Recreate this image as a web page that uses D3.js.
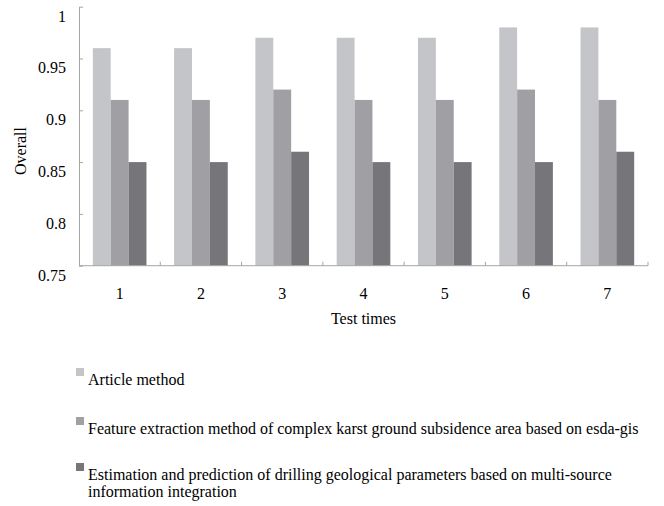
<!DOCTYPE html>
<html>
<head>
<meta charset="utf-8">
<script src="https://cdn.jsdelivr.net/npm/d3@7"></script>
<style>
  body { margin: 0; background: #fff; }
  svg text { font-family: "Liberation Serif", "Times New Roman", serif; fill: #000; }
</style>
</head>
<body>
<div class="chart__container"></div>
<script>
/*-------------------------------------DATA-------------------------------------*/

const TEST_TIMES = ["1", "2", "3", "4", "5", "6", "7"];
const SERIES = [
    "Article method",
    "Feature extraction method of complex karst ground subsidence area based on esda-gis",
    "Estimation and prediction of drilling geological parameters based on multi-source information integration"
];
const ARTICLE = [0.96, 0.96, 0.97, 0.97, 0.97, 0.98, 0.98];
const FEATURE = [0.91, 0.91, 0.92, 0.91, 0.91, 0.92, 0.91];
const ESTIMATION = [0.85, 0.85, 0.86, 0.85, 0.85, 0.85, 0.86];
const Y_TICKS = [0.75, 0.8, 0.85, 0.9, 0.95, 1];
const COLORS = ["#c4c5c9", "#a09fa4", "#76757a"];

/*-------------------------------------INIT-------------------------------------*/

const CHART__WIDTH = 664;
const CHART__HEIGHT = 506;
const MARGIN = { top: 6.7, right: 16, bottom: 240.3, left: 79 };
const AXIS_COLOR = "#a6a6a6";

const SVG = d3.select(".chart__container").append("svg")
    .attr("width", CHART__WIDTH)
    .attr("height", CHART__HEIGHT);

const x0 = d3.scaleBand()
    .domain(TEST_TIMES)
    .range([MARGIN.left, CHART__WIDTH - MARGIN.right])
    .padding(0);

const gap = x0.bandwidth() * 0.17;
const x1 = d3.scaleBand()
    .domain(d3.range(SERIES.length))
    .range([gap, x0.bandwidth() - gap])
    .padding(0);

const y = d3.scaleLinear()
    .domain([0.75, 1])
    .range([CHART__HEIGHT - MARGIN.bottom, MARGIN.top]);

const rows = TEST_TIMES.map((t, i) => ({ t, vals: [ARTICLE[i], FEATURE[i], ESTIMATION[i]] }));

/*-------------------------------------BARS-------------------------------------*/

SVG.append("g").selectAll("g")
    .data(rows)
    .join("g")
    .attr("transform", d => `translate(${x0(d.t)},0)`)
    .selectAll("rect")
    .data(d => d.vals.map((v, k) => ({ v, k })))
    .join("rect")
    .attr("x", d => x1(d.k))
    .attr("width", x1.bandwidth())
    .attr("y", d => y(d.v))
    .attr("height", d => y(0.75) - y(d.v))
    .attr("fill", d => COLORS[d.k]);

/*-------------------------------------AXES-------------------------------------*/

// y axis: ticks point inward, labels sit a bit below the tick
const yAxis = SVG.append("g")
    .attr("transform", `translate(${MARGIN.left},0)`)
    .call(d3.axisLeft(y).tickValues(Y_TICKS).tickFormat(d3.format("")).tickSizeInner(-4).tickSizeOuter(0).tickPadding(13));
yAxis.select(".domain").attr("stroke", AXIS_COLOR);
yAxis.selectAll(".tick line").attr("stroke", AXIS_COLOR);
yAxis.selectAll(".tick text")
    .attr("font-size", 16)
    .attr("font-family", "Liberation Serif")
    .attr("dy", "0.9em");

// x axis: line plus boundary ticks pointing up
const base = y(0.75);
const xAxis = SVG.append("g");
xAxis.append("line")
    .attr("x1", MARGIN.left).attr("x2", CHART__WIDTH - MARGIN.right)
    .attr("y1", base).attr("y2", base)
    .attr("stroke", AXIS_COLOR);
xAxis.selectAll(".bound")
    .data(TEST_TIMES)
    .join("line")
    .attr("class", "bound")
    .attr("x1", d => x0(d) + x0.bandwidth()).attr("x2", d => x0(d) + x0.bandwidth())
    .attr("y1", base).attr("y2", base - 4)
    .attr("stroke", AXIS_COLOR);
xAxis.selectAll(".lbl")
    .data(TEST_TIMES)
    .join("text")
    .attr("class", "lbl")
    .attr("x", d => x0(d) + x0.bandwidth() / 2)
    .attr("y", base + 33)
    .attr("text-anchor", "middle")
    .attr("font-size", 16)
    .text(d => d);

// axis titles
SVG.append("text")
    .attr("x", (MARGIN.left + CHART__WIDTH - MARGIN.right) / 2)
    .attr("y", 324)
    .attr("text-anchor", "middle")
    .attr("font-size", 16)
    .text("Test times");

SVG.append("text")
    .attr("transform", "translate(26,151) rotate(-90)")
    .attr("text-anchor", "middle")
    .attr("font-size", 16)
    .text("Overall");

/*-------------------------------------LEGEND-------------------------------------*/

const LEGEND_Y = [368, 417, 463];
const legend = SVG.append("g").selectAll("g")
    .data(SERIES)
    .join("g")
    .attr("transform", (d, i) => `translate(76,${LEGEND_Y[i]})`);

legend.append("rect")
    .attr("width", 8).attr("height", 8)
    .attr("fill", (d, i) => COLORS[i]);

legend.append("text")
    .attr("x", 12)
    .attr("y", 17)
    .attr("font-size", 16)
    .each(function (d) {
        const t = d3.select(this);
        const lines = d.startsWith("Estimation")
            ? ["Estimation and prediction of drilling geological parameters based on multi-source", "information integration"]
            : [d];
        lines.forEach((ln, j) => {
            t.append("tspan").attr("x", 12).attr("dy", j ? 17 : 0).text(ln);
        });
    });
</script>
</body>
</html>
